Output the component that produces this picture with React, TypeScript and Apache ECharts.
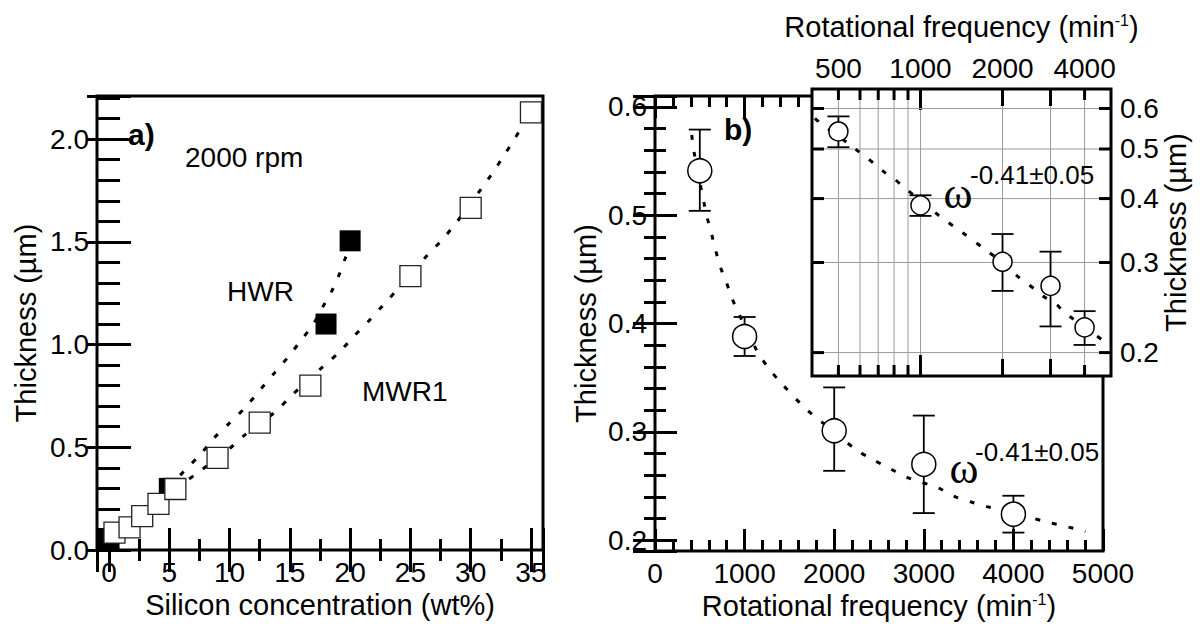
import React, { useEffect, useRef } from "react";
import * as echarts from "echarts";

// ---------- Panel a: thickness vs silicon concentration ----------
const hwrConc = [0, 5, 18, 20];
const hwrThick = [0.05, 0.3, 1.1, 1.505];
const mwrConc = [0.45, 1.7, 2.75, 4.1, 5.5, 9, 12.5, 16.7, 25, 30, 35];
const mwrThick = [0.085, 0.11, 0.165, 0.225, 0.297, 0.448, 0.62, 0.8, 1.333, 1.665, 2.13];
const hwrFitConc = [5, 6.24, 7.49, 8.73, 9.98, 11.36, 12.61, 13.71, 14.89, 15.92, 16.88, 17.71, 18.49, 19.04, 19.59, 20];
const hwrFitThick = [0.3, 0.386, 0.459, 0.546, 0.617, 0.698, 0.785, 0.861, 0.942, 1.02, 1.094, 1.181, 1.262, 1.333, 1.419, 1.48];
const mwrFitConc = [5.5, 7.21, 9.8, 11.2, 13.85, 15.0, 17.7, 19.1, 20.3, 21.6, 22.8, 24.07, 26.4, 27.66, 28.8, 30.85, 31.8, 32.7, 33.6, 34.35, 35];
const mwrFitThick = [0.297, 0.37, 0.484, 0.557, 0.675, 0.744, 0.89, 0.963, 1.04, 1.118, 1.196, 1.278, 1.435, 1.512, 1.593, 1.756, 1.834, 1.915, 1.997, 2.07, 2.13];

// ---------- Panel b: thickness vs rotational frequency ----------
const freq = [500, 1000, 2000, 3000, 4000];
const thick = [0.541, 0.388, 0.301, 0.27, 0.224];
const thickLow = [0.504, 0.37, 0.264, 0.225, 0.207];
const thickHigh = [0.579, 0.406, 0.341, 0.315, 0.241];
const fitFreq = [410, 436, 548, 585, 633, 682, 735, 801, 868, 1136, 1248, 1397, 1700, 2000, 2253, 2439, 2626, 2812, 3166, 3352, 3538, 3705, 4227, 4413, 4618, 4804];
const fitThick = [0.574, 0.558, 0.511, 0.497, 0.482, 0.466, 0.451, 0.437, 0.4215, 0.375, 0.361, 0.346, 0.32, 0.3, 0.283, 0.274, 0.266, 0.258, 0.248, 0.24, 0.235, 0.231, 0.22, 0.216, 0.212, 0.208];

// ---------- Inset (log-log) ticks ----------
const insetFreqTicks = [500, 600, 700, 800, 900, 1000, 2000, 3000, 4000];
const insetFreqLabels = [500, 1000, 2000, 4000];
const insetThickTicks = [0.2, 0.3, 0.4, 0.5, 0.6];

const exponentText = "-0.41±0.05";

const FONT = '"Liberation Sans", Arial, Helvetica, sans-serif';
const SERIF = '"Liberation Serif", "Times New Roman", serif';
const TICK_FS = 28;
const NAME_FS = 29;

const zip = (a: number[], b: number[]) => a.map((v, i) => [v, b[i]]);

const majorTick = { show: true, inside: true, length: 22, lineStyle: { color: "#000", width: 3 } };
const minorTick = (n: number) => ({ show: true, splitNumber: n, length: 11, lineStyle: { color: "#000", width: 3 } });
const labelStyle = { color: "#000", fontSize: TICK_FS, fontFamily: FONT, margin: 8 };
const nameStyle = { color: "#000", fontSize: NAME_FS, fontFamily: FONT };

function errorBarRenderer(cap: number) {
  return (params: any, api: any) => {
    const x = api.value(0);
    const lo = api.coord([x, api.value(1)]);
    const hi = api.coord([x, api.value(2)]);
    const style = { stroke: "#000", lineWidth: 1.8, fill: null };
    return {
      type: "group",
      children: [
        { type: "line", shape: { x1: lo[0], y1: lo[1], x2: hi[0], y2: hi[1] }, style },
        { type: "line", shape: { x1: lo[0] - cap / 2, y1: lo[1], x2: lo[0] + cap / 2, y2: lo[1] }, style },
        { type: "line", shape: { x1: hi[0] - cap / 2, y1: hi[1], x2: hi[0] + cap / 2, y2: hi[1] }, style },
      ],
    };
  };
}

const INSET_YMIN = 0.18;
const INSET_YMAX = 0.655;
const INSET_XMIN = 400;
const INSET_XMAX = 5000;

function txt(x: number, y: number, text: string, fontSize: number, extra: any = {}) {
  const align = extra.align || "left";
  return {
    type: "text", x, y, z: 100,
    style: {
      text, fontSize, fontFamily: extra.fontFamily || FONT, fontWeight: extra.fontWeight || "normal", fill: "#000",
      align, verticalAlign: "middle", textAlign: align, textVerticalAlign: "middle",
    },
  };
}

function buildOption(): any {
  const superRich = {
    sup: { fontSize: 16, fontFamily: FONT, color: "#000", verticalAlign: "top", padding: [0, 0, 10, 0] },
  };
  const openSquare = { color: "#fff", borderColor: "#222", borderWidth: 1.3, opacity: 1 };
  const openCircle = { color: "#fff", borderColor: "#000", borderWidth: 1.5, opacity: 1 };
  const dotted = { color: "#000", width: 3, type: [5, 12] };
  return {
    animation: false,
    backgroundColor: "#fff",
    grid: [
      { left: 97, top: 96, width: 446, height: 454, show: true, borderColor: "#000", borderWidth: 3, backgroundColor: "transparent", containLabel: false, outerBoundsMode: "none" },
      { left: 655, top: 96, width: 448, height: 455, show: true, borderColor: "#000", borderWidth: 3, backgroundColor: "transparent", containLabel: false, outerBoundsMode: "none" },
      { left: 812, top: 89, width: 299, height: 287, show: true, borderColor: "#000", borderWidth: 3, backgroundColor: "#fff", containLabel: false, outerBoundsMode: "none", z: 50 },
    ],
    xAxis: [
      {
        gridIndex: 0, type: "value", position: "bottom", min: -1, max: 36, splitNumber: 7,
        axisLine: { show: false }, axisTick: majorTick, minorTick: minorTick(2), splitLine: { show: false },
        axisLabel: { ...labelStyle, showMinLabel: false, showMaxLabel: false, formatter: (v: number) => String(v) },
        name: "Silicon concentration (wt%)", nameLocation: "middle", nameGap: 34, nameTextStyle: nameStyle,
      },
      {
        gridIndex: 0, type: "value", position: "top", min: -1, max: 36, splitNumber: 7,
        axisLine: { show: false }, axisTick: majorTick, minorTick: minorTick(2), splitLine: { show: false },
        axisLabel: { show: false },
      },
      {
        gridIndex: 1, type: "value", position: "bottom", min: 0, max: 5000, interval: 1000,
        axisLine: { show: false }, axisTick: majorTick, minorTick: minorTick(5), splitLine: { show: false },
        axisLabel: { ...labelStyle, formatter: (v: number) => String(v) },
        name: "Rotational frequency (min{sup|-1})", nameLocation: "middle", nameGap: 34,
        nameTextStyle: { ...nameStyle, rich: superRich },
      },
      {
        gridIndex: 1, type: "value", position: "top", min: 0, max: 5000, interval: 1000,
        axisLine: { show: false }, axisTick: majorTick, minorTick: minorTick(5), splitLine: { show: false },
        axisLabel: { show: false },
      },
      {
        gridIndex: 2, type: "log", logBase: 10, position: "top", min: INSET_XMIN, max: INSET_XMAX, z: 51,
        axisLine: { show: false }, axisTick: { show: false }, minorTick: { show: false }, splitLine: { show: false },
        axisLabel: { show: false },
        name: "Rotational frequency (min{sup|-1})", nameLocation: "middle", nameGap: 48,
        nameTextStyle: { ...nameStyle, rich: superRich },
      },
    ],
    yAxis: [
      {
        gridIndex: 0, type: "value", position: "left", min: 0, max: 2.21, interval: 0.5,
        axisLine: { show: false }, axisTick: majorTick, minorTick: minorTick(5), splitLine: { show: false },
        axisLabel: { ...labelStyle, showMaxLabel: false, formatter: (v: number) => v.toFixed(1) },
        name: "Thickness (µm)", nameLocation: "middle", nameRotate: 90, nameGap: 57, nameTextStyle: nameStyle,
      },
      {
        gridIndex: 0, type: "value", position: "right", min: 0, max: 2.21, interval: 0.5,
        axisLine: { show: false }, axisTick: majorTick, minorTick: minorTick(5), splitLine: { show: false },
        axisLabel: { show: false },
      },
      {
        gridIndex: 1, type: "value", position: "left", min: 0.19, max: 0.61, splitNumber: 4,
        axisLine: { show: false }, axisTick: majorTick, minorTick: minorTick(5), splitLine: { show: false },
        axisLabel: { ...labelStyle, showMinLabel: false, showMaxLabel: false, formatter: (v: number) => v.toFixed(1) },
        name: "Thickness (µm)", nameLocation: "middle", nameRotate: 90, nameGap: 55, nameTextStyle: nameStyle,
      },
      {
        gridIndex: 1, type: "value", position: "right", min: 0.19, max: 0.61, splitNumber: 4,
        axisLine: { show: false }, axisTick: majorTick, minorTick: minorTick(5), splitLine: { show: false },
        axisLabel: { show: false },
      },
      {
        gridIndex: 2, type: "log", logBase: 10, position: "right", min: INSET_YMIN, max: INSET_YMAX, z: 51,
        axisLine: { show: false }, axisTick: { show: false }, minorTick: { show: false }, splitLine: { show: false },
        axisLabel: { show: false },
        name: "Thickness (µm)", nameLocation: "middle", nameRotate: 90, nameGap: 50, nameTextStyle: nameStyle,
      },
    ],
    series: [
      // ---- panel a ----
      { type: "line", xAxisIndex: 0, yAxisIndex: 0, data: zip(hwrFitConc, hwrFitThick), showSymbol: false, smooth: 0.3, lineStyle: dotted, z: 2 },
      { type: "line", xAxisIndex: 0, yAxisIndex: 0, data: zip(mwrFitConc, mwrFitThick), showSymbol: false, smooth: 0.3, lineStyle: dotted, z: 2 },
      {
        name: "HWR", type: "scatter", xAxisIndex: 0, yAxisIndex: 0, data: zip(hwrConc, hwrThick), symbol: "rect", symbolSize: 21,
        itemStyle: { color: "#000", opacity: 1 }, clip: false, z: 3,
      },
      {
        name: "MWR1", type: "scatter", xAxisIndex: 0, yAxisIndex: 0, data: zip(mwrConc, mwrThick), symbol: "rect", symbolSize: 21,
        itemStyle: openSquare, clip: false, z: 4,
      },
      // ---- panel b ----
      { type: "line", xAxisIndex: 2, yAxisIndex: 2, data: zip(fitFreq, fitThick), showSymbol: false, smooth: 0.3, lineStyle: dotted, z: 2 },
      {
        type: "custom", xAxisIndex: 2, yAxisIndex: 2, renderItem: errorBarRenderer(22),
        data: freq.map((f, i) => [f, thickLow[i], thickHigh[i]]), encode: { x: 0, y: [1, 2] }, clip: false, z: 3,
      },
      {
        type: "scatter", xAxisIndex: 2, yAxisIndex: 2, data: zip(freq, thick), symbol: "circle", symbolSize: 24,
        itemStyle: openCircle, z: 4,
      },
      // ---- inset: grid lines & ticks ----
      {
        type: "custom", xAxisIndex: 4, yAxisIndex: 4, clip: false, z: 51,
        data: insetFreqTicks.map((v) => [v, INSET_YMIN]),
        renderItem: (params: any, api: any) => {
          const v = api.value(0);
          const cs = params.coordSys;
          const px = api.coord([v, INSET_YMIN])[0];
          const len = v === 1000 ? 21 : v === 2000 || v === 3000 ? 17 : 11;
          const bottom = cs.y + cs.height;
          return {
            type: "group",
            children: [
              { type: "line", shape: { x1: px, y1: cs.y + 2, x2: px, y2: bottom - 2 }, style: { stroke: "#9a9a9a", lineWidth: 1 } },
              { type: "line", shape: { x1: px, y1: cs.y, x2: px, y2: cs.y + len }, style: { stroke: "#000", lineWidth: 3 } },
              { type: "line", shape: { x1: px, y1: bottom - len, x2: px, y2: bottom }, style: { stroke: "#000", lineWidth: 3 } },
            ],
          };
        },
      },
      {
        type: "custom", xAxisIndex: 4, yAxisIndex: 4, clip: false, z: 51,
        data: insetThickTicks.map((v) => [INSET_XMIN, v]),
        renderItem: (params: any, api: any) => {
          const v = api.value(1);
          const cs = params.coordSys;
          const py = api.coord([INSET_XMIN, v])[1];
          const right = cs.x + cs.width;
          return {
            type: "group",
            children: [
              { type: "line", shape: { x1: cs.x + 2, y1: py, x2: right - 2, y2: py }, style: { stroke: "#9a9a9a", lineWidth: 1 } },
              { type: "line", shape: { x1: cs.x, y1: py, x2: cs.x + 12, y2: py }, style: { stroke: "#000", lineWidth: 3 } },
              { type: "line", shape: { x1: right - 12, y1: py, x2: right, y2: py }, style: { stroke: "#000", lineWidth: 3 } },
              {
                type: "text", x: right + 9, y: py,
                style: { text: v.toFixed(1), fontSize: TICK_FS, fontFamily: FONT, fill: "#000", align: "left", verticalAlign: "middle" },
              },
            ],
          };
        },
      },
      {
        type: "custom", xAxisIndex: 4, yAxisIndex: 4, clip: false, z: 51,
        data: insetFreqLabels.map((v) => [v, INSET_YMAX]),
        renderItem: (params: any, api: any) => {
          const v = api.value(0);
          const cs = params.coordSys;
          const px = api.coord([v, INSET_YMAX])[0];
          return {
            type: "text", x: px, y: cs.y - 7,
            style: { text: String(v), fontSize: TICK_FS, fontFamily: FONT, fill: "#000", align: "center", verticalAlign: "bottom" },
          };
        },
      },
      // ---- inset data ----
      { type: "line", xAxisIndex: 4, yAxisIndex: 4, data: zip(fitFreq, fitThick), showSymbol: false, smooth: 0.3, lineStyle: dotted, z: 52 },
      {
        type: "custom", xAxisIndex: 4, yAxisIndex: 4, renderItem: errorBarRenderer(22),
        data: freq.map((f, i) => [f, thickLow[i], thickHigh[i]]), encode: { x: 0, y: [1, 2] }, clip: false, z: 53,
      },
      {
        type: "scatter", xAxisIndex: 4, yAxisIndex: 4, data: zip(freq, thick), symbol: "circle", symbolSize: 19,
        itemStyle: openCircle, z: 54,
      },
    ],
    graphic: [
      txt(128, 134, "a)", 30, { fontWeight: "bold" }),
      txt(185, 157, "2000 rpm", 28),
      txt(227, 291, "HWR", 28),
      txt(362, 391, "MWR1", 28),
      txt(724, 129, "b)", 30, { fontWeight: "bold" }),
      txt(964, 468, "ω", 44, { fontFamily: SERIF, align: "center" }),
      txt(975, 452, exponentText, 26),
      txt(958, 193, "ω", 44, { fontFamily: SERIF, align: "center" }),
      txt(970, 175, exponentText, 26),
    ],
  };
}

export default function App() {
  const ref = useRef<HTMLDivElement>(null);
  useEffect(() => {
    if (!ref.current) return;
    const chart = echarts.init(ref.current, null, { renderer: "svg" });
    chart.setOption(buildOption());
    return () => chart.dispose();
  }, []);
  return (
    <div
      ref={ref}
      style={{ position: "absolute", left: 0, top: 0, width: 1200, height: 624, background: "#fff" }}
    />
  );
}
